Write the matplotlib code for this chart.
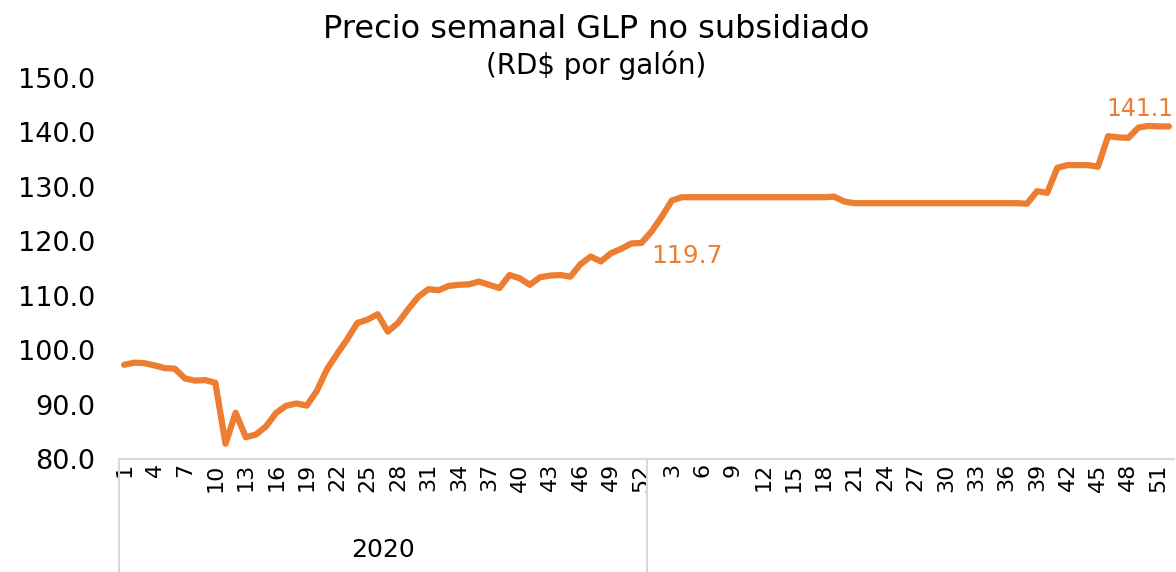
import numpy as np
import matplotlib.pyplot as plt
import matplotlib.transforms as mtransforms

# semana 1-52 de 2020 y semana 1-52 de 2021
precio_2020 = [97.3, 97.7, 97.6, 97.2, 96.7, 96.6, 94.8, 94.4, 94.5, 94.0,
               82.8, 88.5, 84.0, 84.5, 86.0, 88.5, 89.8, 90.2, 89.8, 92.5,
               96.5, 99.3, 102.0, 105.0, 105.6, 106.6, 103.4, 105.0, 107.5, 109.8,
               111.2, 111.0, 111.8, 112.0, 112.1, 112.6, 112.0, 111.4, 113.8, 113.2,
               112.0, 113.4, 113.7, 113.8, 113.5, 115.8, 117.2, 116.3, 117.8, 118.6,
               119.6, 119.7]
precio_2021 = [121.8, 124.5, 127.5, 128.1, 128.1, 128.1, 128.1, 128.1, 128.1, 128.1,
               128.1, 128.1, 128.1, 128.1, 128.1, 128.1, 128.1, 128.1, 128.2, 127.3,
               127.0, 127.0, 127.0, 127.0, 127.0, 127.0, 127.0, 127.0, 127.0, 127.0,
               127.0, 127.0, 127.0, 127.0, 127.0, 127.0, 127.0, 126.9, 129.2, 128.9,
               133.5, 134.0, 134.0, 134.0, 133.7, 139.3, 139.1, 139.0, 140.9, 141.2,
               141.1, 141.1]
semanas_2020 = list(range(1, 53))
semanas_2021 = list(range(1, 53))
anio_label = "2020"
y_ticks = [80, 90, 100, 110, 120, 130, 140, 150]

naranja = "#ED7D31"
gris = "#D9D9D9"

plt.rcParams['font.family'] = ['DejaVu Sans']

precio = precio_2020 + precio_2021
semanas = semanas_2020 + semanas_2021
x = np.arange(len(precio))

fig = plt.figure(figsize=(11.76, 5.72), dpi=100)
ax = fig.add_axes([119 / 1176, 113 / 572, 1055 / 1176, 381 / 572])

ax.plot(x, precio, color=naranja, lw=4.5, solid_joinstyle='round',
        solid_capstyle='round', clip_on=False)

ax.set_xlim(-0.5, len(precio) - 0.5)
ax.set_ylim(80, 150)
ax.set_yticks(y_ticks)
ax.set_yticklabels([f"{v:.1f}" for v in y_ticks], fontsize=19.5)

# etiquetas cada 3 semanas en cada año
pos = [i for i in range(len(semanas_2020)) if i % 3 == 0]
pos += [len(semanas_2020) + i for i in range(len(semanas_2021)) if (i + 1) % 3 == 0]
ax.set_xticks(pos)
ax.set_xticklabels([str(semanas[i]) for i in pos], rotation=90, fontsize=16)
ax.tick_params(axis='x', length=0, pad=3)
ax.tick_params(axis='y', length=0, pad=17)

for s in ['left', 'right', 'top']:
    ax.spines[s].set_visible(False)
ax.spines['bottom'].set_color(gris)
ax.spines['bottom'].set_linewidth(1.5)

# separadores de año
trans = mtransforms.blended_transform_factory(ax.transData, ax.transAxes)
for xs in [-0.5, len(semanas_2020) - 0.5]:
    ax.plot([xs, xs], [0, -0.31], color=gris, lw=1.5, transform=trans, clip_on=False)
ax.text((len(semanas_2020) - 1) / 2, -0.239, anio_label, transform=trans,
        ha='center', va='center', fontsize=18)

# etiquetas de valor
i1 = len(precio_2020) - 1
ax.annotate(f"{precio[i1]:.1f}", (x[i1], precio[i1]), xytext=(7, -1),
            textcoords='offset points', ha='left', va='top', color=naranja, fontsize=18)
i2 = len(precio) - 1
ax.annotate(f"{precio[i2]:.1f}", (x[i2], precio[i2]), xytext=(3, 4),
            textcoords='offset points', ha='right', va='bottom', color=naranja, fontsize=17)

fig.text(596 / 1176, 1 - 30 / 572, "Precio semanal GLP no subsidiado",
         ha='center', va='center', fontsize=23)
fig.text(596 / 1176, 1 - 65 / 572, "(RD$ por galón)",
         ha='center', va='center', fontsize=20)

fig.savefig("out.png", dpi=100)
